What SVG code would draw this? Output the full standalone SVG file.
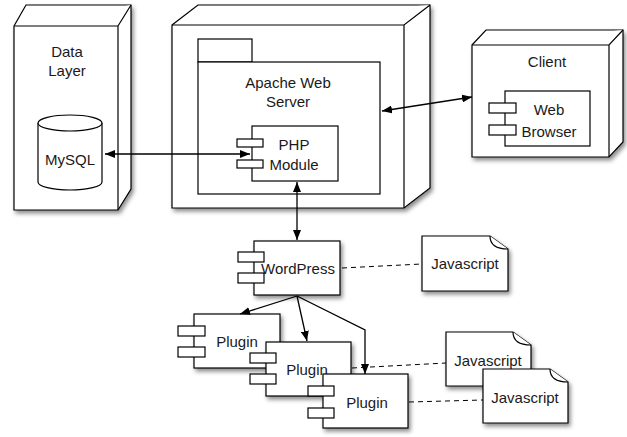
<svg xmlns="http://www.w3.org/2000/svg" width="627" height="437" viewBox="0 0 627 437">
<style>
.s{fill:#fff;stroke:#000;stroke-width:1.2}
.t{font-family:"Liberation Sans",Arial,sans-serif;font-size:15px;fill:#1a1a1a;text-anchor:middle}
.c{fill:none;stroke:#000;stroke-width:1.3}
.d{fill:none;stroke:#000;stroke-width:1;stroke-dasharray:5,4}
</style>
<defs>
<filter id="sh" x="-10%" y="-10%" width="130%" height="130%">
<feDropShadow dx="2" dy="3" stdDeviation="2" flood-color="#000" flood-opacity="0.45"/>
</filter>
<marker id="ah" viewBox="0 0 10 8" refX="10" refY="4" markerWidth="10" markerHeight="8" orient="auto-start-reverse" markerUnits="userSpaceOnUse">
<path d="M0,0 L10,4 L0,8 Z" fill="#000"/>
</marker>
</defs>
<rect width="627" height="437" fill="#fff"/>

<g id="data-layer">
<path class="s" filter="url(#sh)" d="M14,26 L26,5 L131,5 L131,189 L118,210 L14,210 Z"/>
<path class="s" d="M14,26 L118,26 L131,5 M118,26 L118,210"/>
<text class="t" x="67" y="57">Data</text>
<text class="t" x="67" y="76">Layer</text>
<g id="mysql">
<path class="s" d="M38,123 L38,182 A32,8 0 0 0 102,182 L102,123"/>
<ellipse class="s" cx="70" cy="123" rx="32" ry="8"/>
<text class="t" x="70" y="165">MySQL</text>
</g>
</g>

<g id="apache-node">
<path class="s" filter="url(#sh)" d="M172,25 L198,5 L430,5 L430,188 L404,208 L172,208 Z"/>
<path class="s" d="M172,25 L404,25 L430,5 M404,25 L404,208"/>
<g id="apache-web-server">
<rect class="s" x="198" y="39" width="54" height="23"/>
<rect class="s" x="198" y="62" width="182" height="132"/>
<text class="t" x="288" y="88">Apache Web</text>
<text class="t" x="288" y="107">Server</text>
</g>
<g id="php-module">
<rect class="s" x="252" y="126" width="86" height="55"/>
<rect class="s" x="237" y="139" width="26" height="8"/>
<rect class="s" x="237" y="160" width="26" height="8"/>
<text class="t" x="294" y="150">PHP</text>
<text class="t" x="294" y="170">Module</text>
</g>
</g>

<g id="client">
<path class="s" filter="url(#sh)" d="M472,45 L486,30 L623,30 L623,142 L609,157 L472,157 Z"/>
<path class="s" d="M472,45 L609,45 L623,30 M609,45 L609,157"/>
<text class="t" x="547" y="67">Client</text>
<g id="web-browser">
<rect class="s" x="505" y="91" width="85" height="55"/>
<rect class="s" x="489" y="103" width="27" height="10"/>
<rect class="s" x="489" y="125" width="27" height="10"/>
<text class="t" x="549" y="115">Web</text>
<text class="t" x="549" y="137">Browser</text>
</g>
</g>

<g id="wordpress">
<rect class="s" filter="url(#sh)" x="254" y="241" width="86" height="54"/>
<rect class="s" x="238" y="252" width="26" height="10"/>
<rect class="s" x="238" y="273" width="26" height="10"/>
<text class="t" x="298" y="274">WordPress</text>
</g>

<g id="javascript-1">
<path class="s" filter="url(#sh)" d="M422,236 L490,236 L508,249 L508,291 L422,291 Z"/>
<path class="s" d="M490,236 Q490,249 508,249"/>
<text class="t" x="465" y="269">Javascript</text>
</g>

<g id="plugin-1">
<rect class="s" filter="url(#sh)" x="194" y="314" width="86" height="54"/>
<rect class="s" x="178" y="326" width="27" height="10"/>
<rect class="s" x="178" y="347" width="27" height="10"/>
<text class="t" x="237" y="347">Plugin</text>
</g>

<g id="plugin-2">
<rect class="s" filter="url(#sh)" x="266" y="342" width="85" height="54"/>
<rect class="s" x="250" y="353" width="26" height="10"/>
<rect class="s" x="250" y="374" width="26" height="10"/>
<text class="t" x="307" y="375">Plugin</text>
</g>

<g id="plugin-3">
<rect class="s" filter="url(#sh)" x="323" y="374" width="85" height="54"/>
<rect class="s" x="308" y="386" width="26" height="10"/>
<rect class="s" x="308" y="408" width="26" height="10"/>
<text class="t" x="367" y="408">Plugin</text>
</g>

<g id="javascript-2">
<path class="s" filter="url(#sh)" d="M446,332 L513,332 L531,345 L531,386 L446,386 Z"/>
<path class="s" d="M513,332 Q513,345 531,345"/>
<text class="t" x="488" y="366">Javascript</text>
</g>

<g id="javascript-3">
<path class="s" filter="url(#sh)" d="M483,369 L550,369 L568,382 L568,423 L483,423 Z"/>
<path class="s" d="M550,369 Q550,382 568,382"/>
<text class="t" x="525" y="403">Javascript</text>
</g>

<g id="connectors">
<line class="c" x1="105" y1="154" x2="250" y2="154" marker-start="url(#ah)" marker-end="url(#ah)"/>
<line class="c" x1="382" y1="111" x2="472" y2="97" marker-start="url(#ah)" marker-end="url(#ah)"/>
<line class="c" x1="297" y1="182" x2="297" y2="240" marker-start="url(#ah)" marker-end="url(#ah)"/>
<line class="c" x1="297" y1="296" x2="240" y2="314" marker-end="url(#ah)"/>
<line class="c" x1="297" y1="296" x2="307" y2="341" marker-end="url(#ah)"/>
<polyline class="c" points="297,296 365,330 365,374" marker-end="url(#ah)"/>
<line class="d" x1="342" y1="268" x2="422" y2="264"/>
<line class="d" x1="352" y1="368" x2="446" y2="363"/>
<line class="d" x1="409" y1="402" x2="483" y2="400"/>
</g>
</svg>
